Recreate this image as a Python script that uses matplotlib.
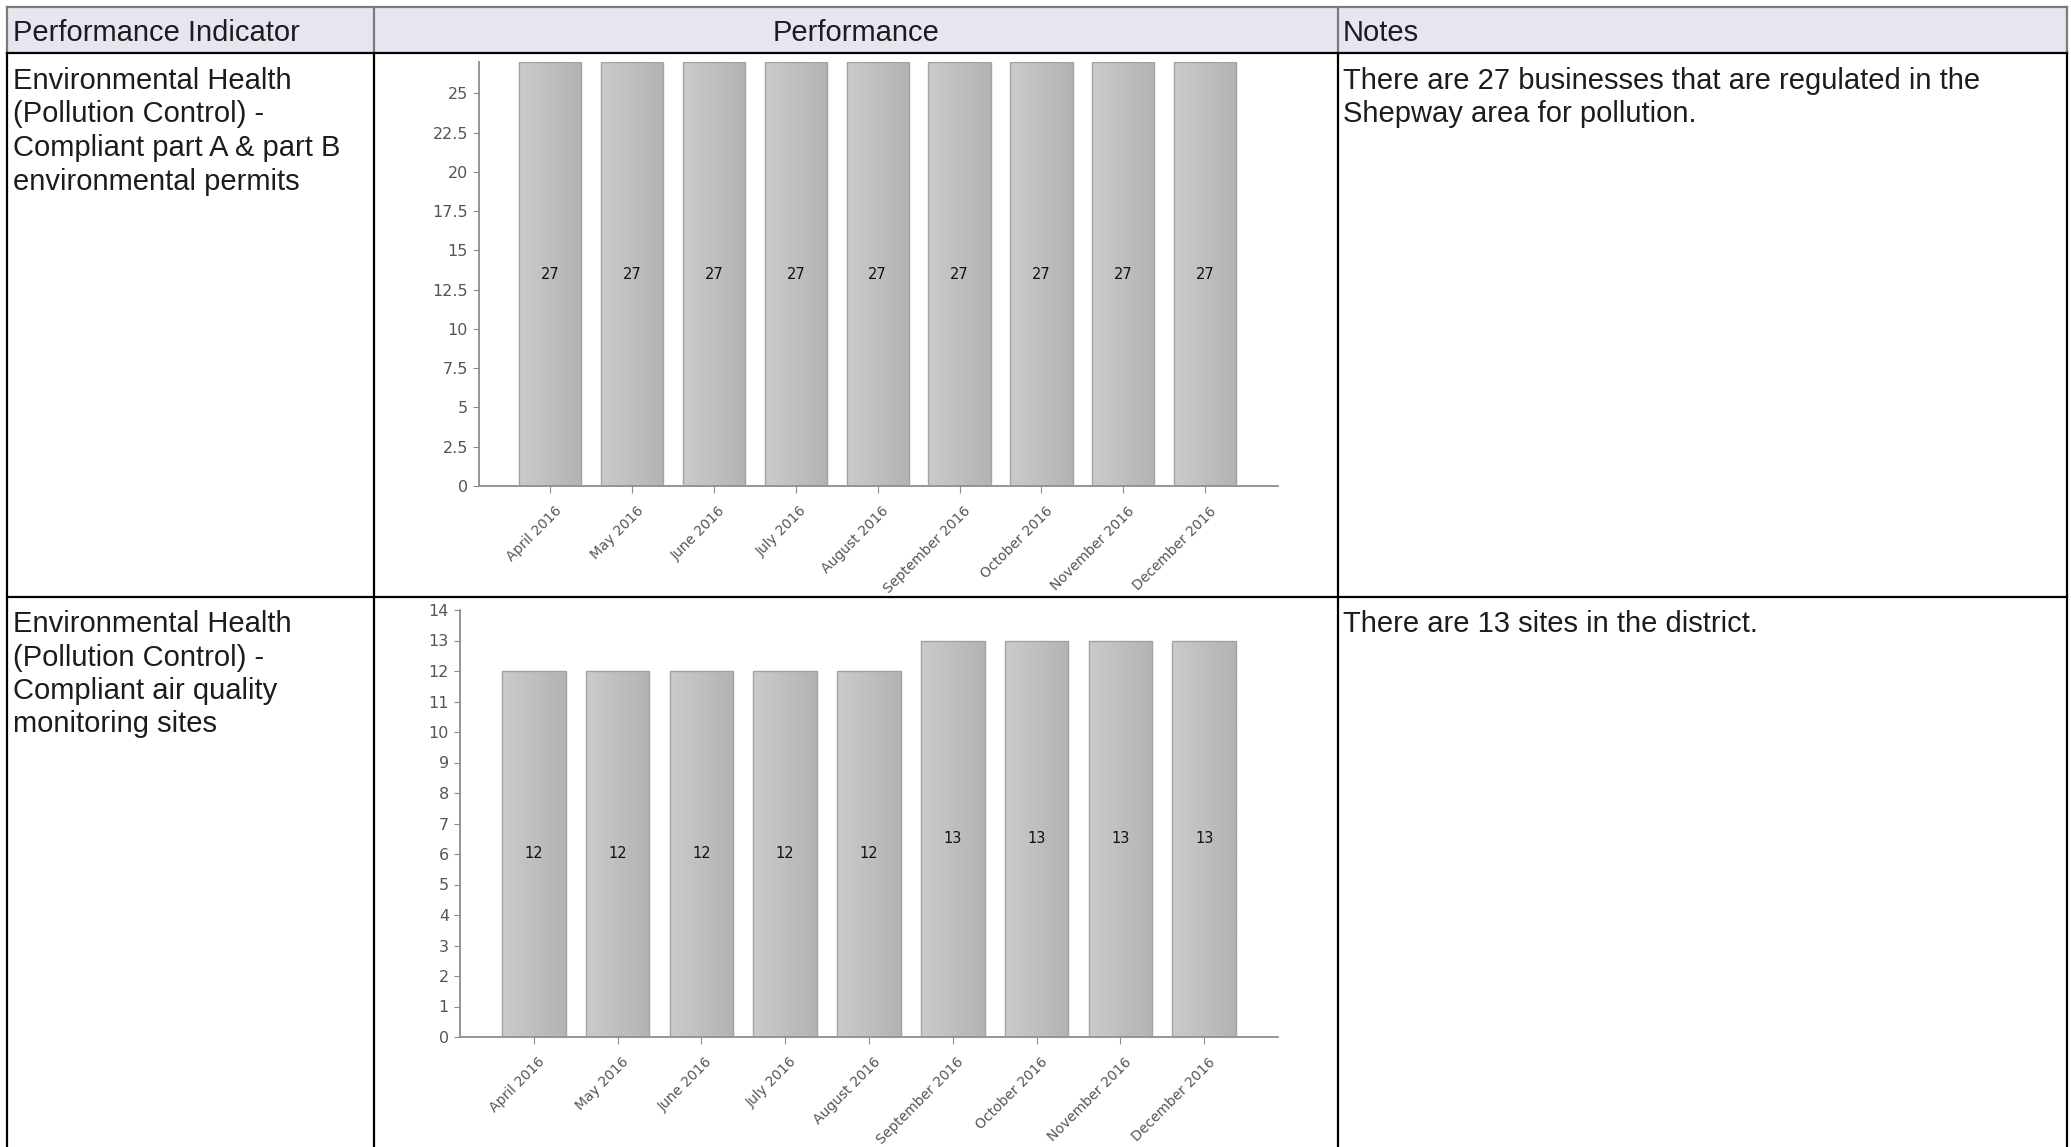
import numpy as np
import matplotlib
matplotlib.use("Agg")
import matplotlib.pyplot as plt
import matplotlib.transforms as mtransforms
from matplotlib.patches import Rectangle
from matplotlib.colors import LinearSegmentedColormap

W, H = 2071, 1147

headers = ["Performance Indicator", "Performance", "Notes"]
indicators = [
    ["Environmental Health", "(Pollution Control) -", "Compliant part A & part B", "environmental permits"],
    ["Environmental Health", "(Pollution Control) -", "Compliant air quality", "monitoring sites"],
]
notes = [
    ["There are 27 businesses that are regulated in the", "Shepway area for pollution."],
    ["There are 13 sites in the district."],
]
months = ["April 2016", "May 2016", "June 2016", "July 2016", "August 2016",
          "September 2016", "October 2016", "November 2016", "December 2016"]
permits = [27, 27, 27, 27, 27, 27, 27, 27, 27]
sites = [12, 12, 12, 12, 12, 13, 13, 13, 13]

permit_ticks = [0, 2.5, 5, 7.5, 10, 12.5, 15, 17.5, 20, 22.5, 25]
permit_ticklabels = ["0", "2.5", "5", "7.5", "10", "12.5", "15", "17.5", "20", "22.5", "25"]
site_ticks = list(range(0, 15))

TXT = "#1c1c1c"
AX = "#8c8c8c"
FONT = ["Liberation Sans", "DejaVu Sans"]

fig = plt.figure(figsize=(W / 100, H / 100), dpi=100)

# table drawn in pixel space
bg = fig.add_axes([0, 0, 1, 1])
bg.set_xlim(0, W)
bg.set_ylim(H, 0)
bg.axis("off")

x_l, x_c1, x_c2, x_r = 7, 374, 1338, 2067
y_t, y_h, y_row = 7, 53, 597

bg.add_patch(Rectangle((x_l, y_t), x_r - x_l, y_h - y_t, fc="#e6e6f0", ec="none"))
lw = 1.6
bg.plot([x_l, x_r], [y_t, y_t], color="#7a7a7a", lw=lw)
bg.plot([x_l, x_r], [y_h, y_h], color="black", lw=lw)
bg.plot([x_l, x_r], [y_row, y_row], color="black", lw=lw)
for x in (x_l, x_c1, x_c2, x_r):
    bg.plot([x, x], [y_t, y_h], color="#7a7a7a", lw=lw)
    bg.plot([x, x], [y_h, H], color="black", lw=lw)

fs = 21
bg.text(x_l + 6, 33, headers[0], fontsize=fs, family=FONT, color=TXT, va="center", ha="left")
bg.text((x_c1 + x_c2) / 2, 33, headers[1], fontsize=fs, family=FONT, color=TXT, va="center", ha="center")
bg.text(x_c2 + 5, 33, headers[2], fontsize=fs, family=FONT, color=TXT, va="center", ha="left")

line_h = 33.5
for top, ind, note in zip([81, 624], indicators, notes):
    for i, s in enumerate(ind):
        bg.text(x_l + 6, top + i * line_h, s, fontsize=fs, family=FONT, color=TXT, va="center", ha="left")
    for i, s in enumerate(note):
        bg.text(x_c2 + 5, top + i * line_h, s, fontsize=fs, family=FONT, color=TXT, va="center", ha="left")

grad_cmap = LinearSegmentedColormap.from_list("bar", ["#cbcbcb", "#b3b3b3"])
grad = np.linspace(0, 1, 64)[None, :]
label_shift = mtransforms.ScaledTranslation(0.09, -0.02, fig.dpi_scale_trans)


def bar_chart(px_left, px_right, px_top, px_bottom, values, yticks, yticklabels, ymax, xlim):
    ax = fig.add_axes([px_left / W, 1 - px_bottom / H,
                       (px_right - px_left) / W, (px_bottom - px_top) / H])
    x = np.arange(len(values))
    bars = ax.bar(x, values, width=0.76, color="none", edgecolor="#a2a2a2", lw=1.0, zorder=3)
    for b in bars:
        x0, y0, w, h = b.get_x(), b.get_y(), b.get_width(), b.get_height()
        im = ax.imshow(grad, cmap=grad_cmap, extent=(x0, x0 + w, y0, y0 + h),
                       aspect="auto", zorder=2, interpolation="bilinear")
        im.set_clip_path(b)
    for xi, v in zip(x, values):
        ax.text(xi, v / 2, str(v), ha="center", va="center", fontsize=10.5, color="#111111")
    ax.set_xlim(*xlim)
    ax.set_ylim(0, ymax)
    for s in ("top", "right"):
        ax.spines[s].set_visible(False)
    for s in ("left", "bottom"):
        ax.spines[s].set_color(AX)
        ax.spines[s].set_linewidth(1.3)
    ax.tick_params(axis="y", length=4, color=AX, labelcolor="#555555", labelsize=11.5, pad=4)
    ax.tick_params(axis="x", length=5, color=AX, labelcolor="#555555", labelsize=10, pad=10)
    ax.set_yticks(yticks)
    ax.set_yticklabels(yticklabels)
    ax.set_xticks(x)
    ax.set_xticklabels(months, rotation=45, ha="right", va="center", rotation_mode="anchor")
    for lab in ax.get_xticklabels():
        lab.set_transform(lab.get_transform() + label_shift)
    ax.set_facecolor("none")
    return ax


bar_chart(479, 1278, 62, 486, permits, permit_ticks, permit_ticklabels, 27, (-0.87, 8.89))
bar_chart(460, 1278, 610, 1037, sites, site_ticks, [str(t) for t in site_ticks], 14, (-0.88, 8.88))

fig.savefig("out.png", dpi=100)
